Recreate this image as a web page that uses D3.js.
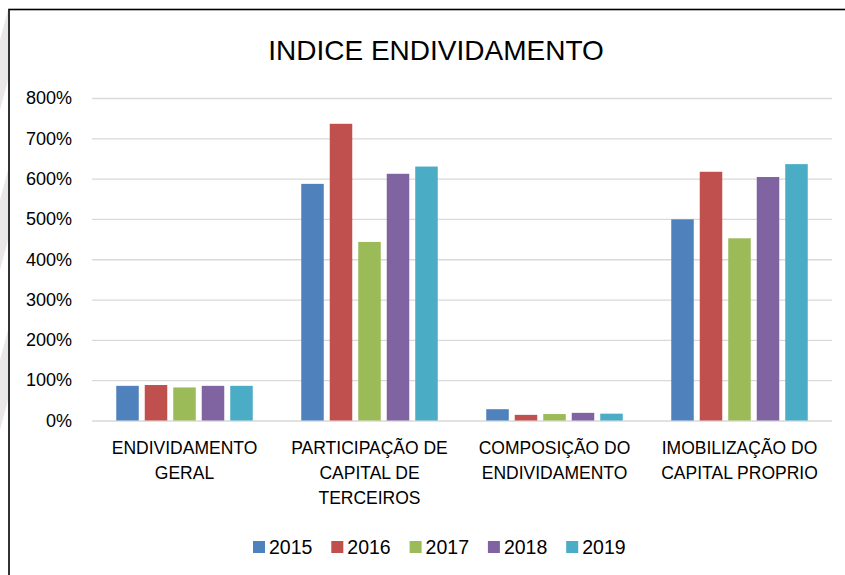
<!DOCTYPE html>
<html>
<head>
<meta charset="utf-8">
<script src="https://cdn.jsdelivr.net/npm/d3@7"></script>
<style>
  body { margin: 0; background: #fff; }
  svg { display: block; }
</style>
</head>
<body>
<script>
const categories = [
  ['ENDIVIDAMENTO', 'GERAL'],
  ['PARTICIPAÇÃO DE', 'CAPITAL DE', 'TERCEIROS'],
  ['COMPOSIÇÃO DO', 'ENDIVIDAMENTO'],
  ['IMOBILIZAÇÃO DO', 'CAPITAL PROPRIO']
];
const years = ['2015', '2016', '2017', '2018', '2019'];
const colors = ['#4F81BD', '#C0504D', '#9BBB59', '#8064A2', '#4BACC6'];
// values in %, one array per year
const v2015 = [86, 587, 28, 499];
const v2016 = [88, 736, 14, 617];
const v2017 = [82, 443, 16, 452];
const v2018 = [86, 612, 19, 604];
const v2019 = [86, 630, 17, 636];
const yTicks = [0, 100, 200, 300, 400, 500, 600, 700, 800];

const series = [v2015, v2016, v2017, v2018, v2019];

const width = 845;
const height = 575;
const marginLeft = 92;
const marginRight = 13;
const plotTop = 98;
const plotBottom = 420.5;
const groupWidth = 136.5;
const font = '"Liberation Sans", Arial, sans-serif';

const svg = d3.select('body')
  .append('svg')
  .attr('width', width)
  .attr('height', height);

// faint stripes of the page behind the chart
svg.append('g')
  .selectAll('path')
  .data([40, 200, 360])
  .join('path')
  .attr('d', d => `M0,${d} L8,${d - 30} L8,${d + 40} L0,${d + 70} Z`)
  .attr('fill', '#ebe7e9');

// chart frame
svg.append('rect')
  .attr('x', 9)
  .attr('y', 9.5)
  .attr('width', 850)
  .attr('height', 580)
  .attr('fill', '#fff')
  .attr('stroke', '#000')
  .attr('stroke-width', 1.6);

const x0 = d3.scaleBand()
  .domain(d3.range(categories.length))
  .range([marginLeft, width - marginRight]);

const x1 = d3.scaleBand()
  .domain(d3.range(years.length))
  .range([0, groupWidth])
  .paddingInner(0.21);

const y = d3.scaleLinear()
  .domain([0, 800])
  .range([plotBottom, plotTop]);

// title
svg.append('text')
  .attr('x', 436)
  .attr('y', 60)
  .attr('text-anchor', 'middle')
  .style('font-family', font)
  .style('font-size', '28px')
  .style('fill', '#000')
  .text('INDICE ENDIVIDAMENTO');

// grid lines + y labels
const yAxis = svg.append('g')
  .attr('transform', `translate(${marginLeft},0)`)
  .call(d3.axisLeft(y)
    .tickValues(yTicks)
    .tickSize(-(width - marginLeft - marginRight))
    .tickPadding(20)
    .tickFormat(d => d + '%'));
yAxis.select('.domain').remove();
yAxis.selectAll('.tick line')
  .attr('stroke', '#d9d9d9')
  .attr('stroke-width', 1.3);
yAxis.selectAll('.tick text')
  .style('font-family', font)
  .style('font-size', '18px')
  .style('fill', '#000');

// bars
const groups = svg.append('g')
  .selectAll('g')
  .data(categories.map((c, i) => i))
  .join('g')
  .attr('transform', i => `translate(${x0(i) + (x0.bandwidth() - groupWidth) / 2},0)`);

groups.selectAll('rect')
  .data(i => series.map((s, k) => ({ k, v: s[i] })))
  .join('rect')
  .attr('x', d => x1(d.k))
  .attr('y', d => y(d.v))
  .attr('width', x1.bandwidth())
  .attr('height', d => y(0) - y(d.v))
  .attr('fill', d => colors[d.k]);

// category labels
const catLabels = svg.append('g')
  .selectAll('text')
  .data(categories)
  .join('text')
  .attr('x', (d, i) => x0(i) + x0.bandwidth() / 2)
  .attr('y', 454)
  .attr('text-anchor', 'middle')
  .style('font-family', font)
  .style('font-size', '17.5px')
  .style('fill', '#000');
catLabels.selectAll('tspan')
  .data(d => d)
  .join('tspan')
  .attr('x', function () { return this.parentNode.getAttribute('x'); })
  .attr('dy', (d, i) => (i === 0 ? 0 : 25))
  .text(d => d);

// legend
const legend = svg.append('g')
  .selectAll('g')
  .data(years)
  .join('g')
  .attr('transform', (d, i) => `translate(${253 + i * 78.3},541)`);
legend.append('rect')
  .attr('width', 12)
  .attr('height', 12)
  .attr('fill', (d, i) => colors[i]);
legend.append('text')
  .attr('x', 16)
  .attr('y', 13)
  .style('font-family', font)
  .style('font-size', '19.5px')
  .style('fill', '#000')
  .text(d => d);
</script>
</body>
</html>
